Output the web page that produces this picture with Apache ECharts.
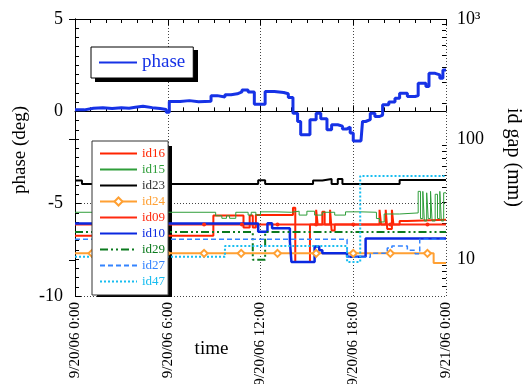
<!DOCTYPE html>
<html>
<head>
<meta charset="utf-8">
<script src="https://cdn.jsdelivr.net/npm/echarts@6/dist/echarts.min.js"></script>
<style>
  html, body { margin: 0; padding: 0; background: #fff; }
  #chart { width: 526px; height: 384px; }
</style>
</head>
<body>
<div id="chart"></div>
<script>
// hours since 9/20/06 0:00
const timeLabels = ['9/20/06 0:00', '9/20/06 6:00', '9/20/06 12:00', '9/20/06 18:00', '9/21/06 0:00']
const gapMajor = [10, 100, 1000]
const gapMajorText = ['10', '100', '10³']
const gapMinor = [6, 7, 8, 9, 20, 30, 40, 50, 60, 70, 80, 90, 200, 300, 400, 500, 600, 700, 800, 900]

// phase (deg), left axis
const phase = [
  [0, 0.08], [0.6, 0.17], [1.2, 0.2], [1.8, 0.15], [2.4, 0.2], [3.0, 0.17], [3.5, 0.22], [3.9, 0.28],
  [4.4, 0.2], [5.0, 0.15], [5.5, 0.1], [5.9, -0.05], [6.1, 0.53], [6.8, 0.58], [7.4, 0.52], [8.0, 0.55],
  [8.8, 0.85], [9.2, 0.78], [9.7, 0.9], [10.1, 0.95], [10.5, 1.05], [10.8, 1.16], [11.2, 1.05], [11.6, 0.39],
  [12.3, 1.07], [12.9, 1.02], [13.5, 0.95], [13.8, 0.75], [14.1, -0.1], [14.4, -0.55], [14.6, -1.27],
  [15.2, -0.46], [15.6, -0.1], [15.9, -0.4], [16.3, -1.0], [16.6, -0.73], [17.0, -0.8], [17.3, -0.95],
  [17.6, -0.85], [17.8, -1.18], [18.0, -1.6], [18.5, -1.55], [18.6, -0.55], [18.8, -0.45], [19.1, -0.1],
  [19.4, -0.28], [19.7, -0.2], [19.9, 0.35], [20.3, 0.5], [20.7, 0.71], [21.0, 0.98], [21.5, 0.8],
  [22.0, 0.85], [22.2, 1.52], [22.7, 1.34], [22.9, 2.06], [23.3, 1.97], [23.6, 1.79], [23.8, 2.24], [24, 2.24]
]

// id gaps (mm), right log axis
const id16 = [
  [0, 15.8], [8.95, 23.3], [10.9, 18.5], [11.3, 23.3], [11.5, 18.5], [11.7, 23.5], [14.1, 27], [14.25, 9.6],
  [15.2, 19.6], [15.6, 26], [15.7, 19.6], [16.0, 25], [16.15, 19.6], [16.5, 26], [16.6, 17.5], [16.8, 19.6],
  [19.7, 26], [19.8, 19.6], [20.1, 26], [20.2, 18], [20.5, 26], [20.6, 19.6], [21.0, 21], [21.5, 21.5], [24, 21.5]
]
const id15 = [
  [0, 24.8], [9.1, 23.2], [9.5, 22.1], [9.8, 23.2], [10.0, 22.1], [10.4, 24.8], [11.2, 23.5], [11.4, 24.8],
  [11.7, 23.5], [12.0, 25], [13.0, 24.8], [14.0, 25.3], [14.5, 23.5], [15.0, 25.3], [15.5, 23.5], [16.0, 24.8],
  [16.8, 23.5], [17.5, 25], [18.5, 24.8], [19.5, 22.0], [19.7, 20.6], [20.0, 24.0], [21.0, 24.5], [22.2, 37],
  [22.35, 22], [22.5, 37], [22.6, 21], [22.75, 36], [22.85, 22], [23.0, 37], [23.1, 21], [23.3, 35],
  [23.45, 22], [23.6, 37], [23.7, 21], [23.85, 36], [24, 36]
]
const id23 = [
  [0, 45.5], [0.45, 42.6], [11.85, 45.7], [12.3, 42.6], [15.4, 45.5], [16.0, 46.9], [16.6, 42.6],
  [17.0, 46.9], [17.3, 42.6], [21.0, 46], [24, 46]
]
const id24 = [[0, 11.3], [23.2, 9.4], [24, 9.4]]
const id24Marks = [[1.1, 11.3], [3.5, 11.3], [5.9, 11.3], [8.35, 11.3], [10.75, 11.3], [13.1, 11.3], [15.6, 11.3], [18.0, 11.3], [20.4, 11.3], [22.8, 11.3]]
const id09 = [[0, 19.6], [24, 19.6]]
const id09Marks = [[8.35, 19.6], [10.8, 19.6], [13.1, 19.6], [15.6, 19.6], [18.0, 19.6], [20.4, 19.6], [22.8, 19.6]]
const id10 = [
  [0, 20], [11.85, 17.1], [12.45, 20.1], [12.75, 18.3], [13.9, 14.3], [14.0, 9.6], [15.5, 12.9],
  [15.8, 12], [16.0, 11.3], [17.6, 10.6], [18.8, 15], [24, 15]
]
const id29 = [[0, 17], [11.5, 10], [12.3, 17], [24, 17]]
const id27 = [
  [0, 14.8], [17.6, 10.5], [19.1, 11.3], [20.2, 12.5], [20.5, 13.0], [21.5, 12.0], [22.0, 11.2], [22.3, 14.8], [24, 14.8]
]
const id47 = [[0, 10.6], [9.7, 13.0], [17.6, 9.6], [18.45, 49.7], [24, 49.7]]

const FONT = 'Liberation Serif'

function withMarks(line, marks) {
  const pts = line.map((p) => ({ value: p, symbol: 'none' }))
  marks.forEach((m) => pts.push({ value: m }))
  return pts.sort((a, b) => a.value[0] - b.value[0])
}

const idSeries = [
  { name: 'id16', data: id16, color: '#ff2400', width: 2 },
  { name: 'id15', data: id15, color: '#2f9e3a', width: 1 },
  { name: 'id23', data: id23, color: '#000000', width: 2 },
  { name: 'id24', data: withMarks(id24, id24Marks), color: '#ffa033', width: 2, symbol: 'emptyDiamond', size: 7, legendMark: true },
  { name: 'id09', data: withMarks(id09, id09Marks), color: '#ff2a10', width: 2, symbol: 'circle', size: 4 },
  { name: 'id10', data: id10, color: '#0a28e0', width: 2.5 },
  { name: 'id29', data: id29, color: '#0b7a1e', width: 2, type: [8, 3, 2, 3, 2, 3] },
  { name: 'id27', data: id27, color: '#3484ff', width: 1.5, type: [5, 3] },
  { name: 'id47', data: id47, color: '#18bdf0', width: 2, type: [2, 2] },
]

const chart = echarts.init(document.getElementById('chart'), null, { renderer: 'canvas' })

const series = [
  {
    name: 'phase', type: 'line', xAxisIndex: 0, yAxisIndex: 0, step: 'end', symbol: 'none',
    data: phase, lineStyle: { color: '#1632e6', width: 3 }, itemStyle: { color: '#1632e6' }, z: 5,
  },
].concat(idSeries.map((s) => ({
  name: s.name, type: 'line', xAxisIndex: 0, yAxisIndex: 1, step: 'end',
  symbol: s.symbol || 'none', symbolSize: s.size || 4, showSymbol: true,
  data: s.data,
  lineStyle: { color: s.color, width: s.width, type: s.type || 'solid' },
  itemStyle: { color: s.color },
})))

chart.setOption({
  animation: false,
  backgroundColor: '#fff',
  textStyle: { fontFamily: FONT },
  grid: { left: 75, right: 80, top: 19, bottom: 88, containLabel: false, outerBoundsMode: 'none' },
  // drop shadows behind the two legend boxes
  graphic: [
    { type: 'rect', z: 3, silent: true, shape: { x: 95, y: 50, width: 103, height: 32 }, style: { fill: '#000' } },
    { type: 'rect', z: 3, silent: true, shape: { x: 97, y: 146, width: 75, height: 151 }, style: { fill: '#000' } },
  ],
  legend: [
    {
      data: [{ name: 'phase', itemStyle: { opacity: 0 } }],
      left: 91, top: 47, orient: 'horizontal', selectedMode: false,
      padding: [6, 8, 6, 7], itemWidth: 38, itemHeight: 12,
      backgroundColor: '#fff', borderColor: '#000', borderWidth: 1, borderRadius: 0,
      textStyle: { fontSize: 19, color: '#1632e6', fontFamily: FONT },
    },
    {
      data: idSeries.map((s) => ({
        name: s.name,
        itemStyle: { opacity: s.legendMark ? 1 : 0 },
        textStyle: { color: s.color === '#000000' ? '#333' : s.color },
      })),
      left: 92, top: 141, orient: 'vertical', selectedMode: false,
      padding: [6, 3, 7, 7], itemWidth: 37, itemHeight: 10, itemGap: 3,
      backgroundColor: '#fff', borderColor: '#333', borderWidth: 1, borderRadius: 0,
      textStyle: { fontSize: 13, fontFamily: FONT },
    },
  ],
  xAxis: [
    {
      type: 'value', min: 0, max: 24, interval: 6, position: 'bottom',
      axisLine: { lineStyle: { color: '#000', width: 1 } },
      axisTick: { inside: true, length: 6, lineStyle: { color: '#000' } },
      minorTick: { show: true, splitNumber: 6, length: 4, lineStyle: { color: '#000' } },
      splitLine: { show: true, lineStyle: { color: '#444', type: [1, 2] } },
      axisLabel: {
        rotate: 90, fontSize: 15, fontFamily: FONT, color: '#000', margin: 6,
        formatter: (v) => timeLabels[v / 6],
      },
      name: 'time', nameLocation: 'middle', nameGap: 44, nameMoveOverlap: false,
      nameTextStyle: { fontSize: 19, fontFamily: FONT, color: '#000', padding: [0, 98, 0, 0] },
    },
    {
      type: 'value', min: 0, max: 24, interval: 6, position: 'top',
      axisLine: { lineStyle: { color: '#000', width: 1 } },
      axisTick: { inside: true, length: 6, lineStyle: { color: '#000' } },
      minorTick: { show: true, splitNumber: 6, length: 4, lineStyle: { color: '#000' } },
      splitLine: { show: false }, axisLabel: { show: false },
    },
  ],
  yAxis: [
    {
      type: 'value', min: -10, max: 5, interval: 5, position: 'left',
      axisLine: { show: true, lineStyle: { color: '#000', width: 1 } },
      axisTick: { show: true, inside: true, length: 6, lineStyle: { color: '#000' } },
      minorTick: { show: true, splitNumber: 10, length: 4, lineStyle: { color: '#000' } },
      splitLine: { show: true, lineStyle: { color: '#444', type: [1, 2] } },
      axisLabel: { fontSize: 18, fontFamily: FONT, color: '#000', margin: 12 },
      name: 'phase (deg)', nameLocation: 'middle', nameGap: 45, nameMoveOverlap: false,
      nameTextStyle: { fontSize: 19, fontFamily: FONT, color: '#000', padding: [0, 0, 0, 15] },
    },
    {
      type: 'log', logBase: 10, min: 5, max: 1000, position: 'right',
      axisLine: { show: true, lineStyle: { color: '#000', width: 1 } },
      axisTick: { show: true, inside: true, length: 6, customValues: gapMajor, lineStyle: { color: '#000' } },
      axisLabel: {
        customValues: gapMajor, fontSize: 18, fontFamily: FONT, color: '#000', margin: 11,
        formatter: (v) => gapMajorText[gapMajor.indexOf(Math.round(v))] ?? '',
      },
      splitLine: { show: false },
      name: 'id gap (mm)', nameLocation: 'middle', nameGap: 57, nameRotate: -90, nameMoveOverlap: false,
      nameTextStyle: { fontSize: 20, fontFamily: FONT, color: '#000' },
    },
    {
      type: 'log', logBase: 10, min: 5, max: 1000, position: 'right',
      axisLine: { show: false },
      axisTick: { show: true, inside: true, length: 4, customValues: gapMinor, lineStyle: { color: '#000' } },
      axisLabel: { show: false }, splitLine: { show: false },
    },
  ],
  series,
})
</script>
</body>
</html>
